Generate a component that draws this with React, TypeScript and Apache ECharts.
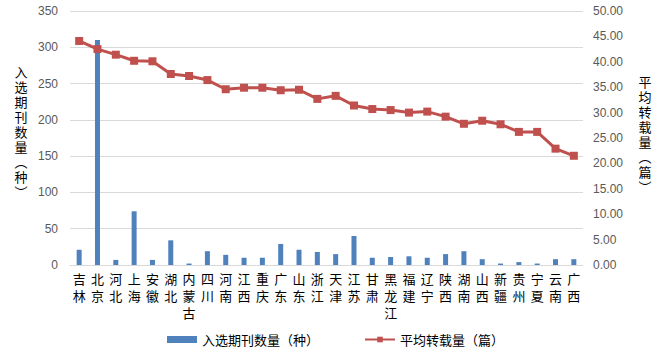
import React, { useEffect, useRef } from "react";
import * as echarts from "echarts";

const provinces = ["吉林", "北京", "河北", "上海", "安徽", "湖北", "内蒙古", "四川", "河南", "江西", "重庆", "广东", "山东", "浙江", "天津", "江苏", "甘肃", "黑龙江", "福建", "辽宁", "陕西", "湖南", "山西", "新疆", "贵州", "宁夏", "云南", "广西"];
const journalCounts = [21, 310, 7, 74, 7, 34, 2, 19, 14, 10, 10, 29, 21, 18, 15, 40, 10, 11, 12, 10, 15, 19, 8, 2, 4, 2, 8, 8];
const avgReprints = [44.1, 42.5, 41.4, 40.2, 40.1, 37.6, 37.2, 36.4, 34.6, 34.9, 34.9, 34.4, 34.5, 32.7, 33.3, 31.4, 30.7, 30.5, 30.0, 30.2, 29.2, 27.8, 28.4, 27.7, 26.2, 26.2, 22.9, 21.5];
const barName = "入选期刊数量（种）";
const lineName = "平均转载量（篇）";
const leftAxisTitle = ["入", "选", "期", "刊", "数", "量", "︵", "种", "︶"];
const rightAxisTitle = ["平", "均", "转", "载", "量", "︵", "篇", "︶"];

const FONT = "'Noto Sans CJK SC', 'Noto Sans', sans-serif";
const STACK_FONT = "'Liberation Sans', 'Noto Sans CJK SC', sans-serif";

function verticalTitle(chars: string[], x: number, y: number, step: number) {
  return {
    type: "group",
    children: chars.map((c, i) => ({
      type: "text",
      x,
      y: y + i * step,
      style: {
        text: c,
        fontSize: 13,
        lineHeight: 13,
        fill: "#000",
        fontFamily: STACK_FONT,
        align: "center",
        verticalAlign: "middle",
      },
    })),
  };
}

export default function App() {
  const ref = useRef<HTMLDivElement>(null);
  useEffect(() => {
    document.body.style.margin = "0";
    if (!ref.current) return;
    const chart = echarts.init(ref.current, undefined, { renderer: "svg" });
    chart.setOption({
      animation: false,
      textStyle: { fontFamily: FONT },
      grid: { left: 70, right: 88, top: 11, bottom: 99, containLabel: false },
      legend: {
        bottom: 13,
        left: "center",
        itemGap: 45,
        textStyle: { fontSize: 13, color: "#000", fontFamily: FONT },
        data: [
          { name: barName, icon: "rect", itemStyle: { color: "#4F81BD" } },
          { name: lineName },
        ],
        itemWidth: 30,
        itemHeight: 7,
      },
      graphic: [
        verticalTitle(leftAxisTitle, 21, 72, 15),
        verticalTitle(rightAxisTitle, 645, 82, 15),
      ],
      xAxis: {
        type: "category",
        data: provinces,
        axisLine: { lineStyle: { color: "#D9D9D9" } },
        axisTick: { show: false },
        axisLabel: {
          interval: 0,
          fontSize: 13,
          color: "#000",
          lineHeight: 17,
          margin: 6,
          fontFamily: STACK_FONT,
          formatter: (v: string) => v.split("").join("\n"),
        },
      },
      yAxis: [
        {
          type: "value",
          min: 0,
          max: 350,
          interval: 50,
          axisLine: { show: false },
          axisTick: { show: false },
          splitLine: { lineStyle: { color: "#D9D9D9" } },
          axisLabel: { color: "#595959", fontSize: 12, margin: 12, fontFamily: "'Liberation Sans', sans-serif" },
        },
        {
          type: "value",
          min: 0,
          max: 50,
          interval: 5,
          axisLine: { show: false },
          axisTick: { show: false },
          splitLine: { show: false },
          axisLabel: {
            color: "#595959",
            fontSize: 12,
            margin: 10,
            fontFamily: "'Liberation Sans', sans-serif",
            formatter: (v: number) => v.toFixed(2),
          },
        },
      ],
      series: [
        {
          name: barName,
          type: "bar",
          data: journalCounts,
          barWidth: 5,
          itemStyle: { color: "#4F81BD" },
        },
        {
          name: lineName,
          type: "line",
          yAxisIndex: 1,
          data: avgReprints,
          symbol: "rect",
          symbolSize: 8,
          lineStyle: { color: "#C0504D", width: 3 },
          itemStyle: { color: "#C0504D" },
        },
      ],
    });
    return () => chart.dispose();
  }, []);
  return <div ref={ref} style={{ width: 671, height: 364 }} />;
}
